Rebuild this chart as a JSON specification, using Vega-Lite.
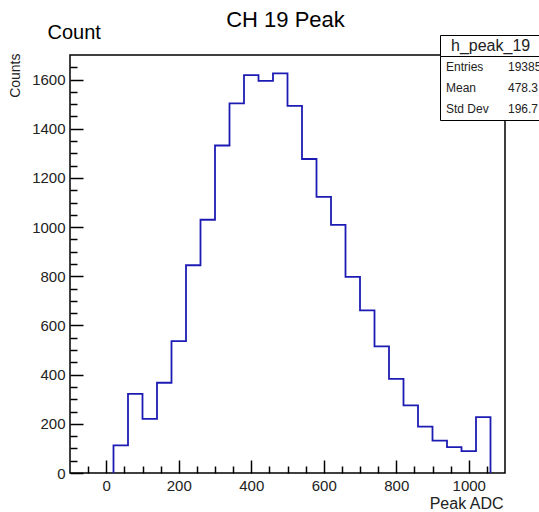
{
  "$schema": "https://vega.github.io/schema/vega-lite/v6.json",
  "autosize": {"type": "none"},
  "width": 435,
  "height": 418,
  "padding": {"left": 70, "top": 55, "right": 34, "bottom": 39},
  "background": "white",
  "title": {
    "text": "CH 19 Peak",
    "font": "Liberation Sans",
    "fontSize": 22,
    "fontWeight": "normal",
    "color": "black",
    "anchor": "middle",
    "frame": "group",
    "offset": 0,
    "dx": -2,
    "dy": 10
  },
  "layer": [
    {
      "data": {
        "values": [
          {"adc": 20, "count": 0},
          {"adc": 20, "count": 112},
          {"adc": 60, "count": 322},
          {"adc": 100, "count": 220},
          {"adc": 140, "count": 367},
          {"adc": 180, "count": 536},
          {"adc": 220, "count": 845},
          {"adc": 260, "count": 1030},
          {"adc": 300, "count": 1332},
          {"adc": 340, "count": 1503},
          {"adc": 380, "count": 1618},
          {"adc": 420, "count": 1595},
          {"adc": 460, "count": 1625},
          {"adc": 500, "count": 1493},
          {"adc": 540, "count": 1277},
          {"adc": 580, "count": 1123},
          {"adc": 620, "count": 1009},
          {"adc": 660, "count": 798},
          {"adc": 700, "count": 661},
          {"adc": 740, "count": 515},
          {"adc": 780, "count": 383},
          {"adc": 820, "count": 275},
          {"adc": 860, "count": 189},
          {"adc": 900, "count": 132},
          {"adc": 940, "count": 105},
          {"adc": 980, "count": 89},
          {"adc": 1020, "count": 227},
          {"adc": 1060, "count": 0}
        ]
      },
      "mark": {"type": "line", "interpolate": "step-after", "color": "#1c1cb4", "strokeWidth": 1.8, "clip": true},
      "encoding": {
        "x": {
          "field": "adc",
          "type": "quantitative",
          "scale": {"domain": [-100, 1100], "nice": false, "zero": false},
          "axis": {
            "orient": "bottom",
            "title": "Peak ADC",
            "values": [-50, 0, 50, 100, 150, 200, 250, 300, 350, 400, 450, 500, 550, 600, 650, 700, 750, 800, 850, 900, 950, 1000, 1050],
            "format": "d",
            "labelExpr": "datum.value % 200 === 0 ? datum.label : ''",
            "labelOverlap": false,
            "labelFlush": false,
            "labelFont": "Liberation Sans",
            "labelFontSize": 15,
            "labelColor": "#222",
            "labelPadding": 18,
            "labelBaseline": "top",
            "tickSize": {"condition": {"test": "datum.value % 200 === 0", "value": -13}, "value": -7},
            "tickColor": "black",
            "tickWidth": 1.5,
            "domain": false,
            "grid": false,
            "titleFont": "Liberation Sans",
            "titleFontSize": 16,
            "titleFontWeight": "normal",
            "titleColor": "#222",
            "titleAnchor": "end",
            "titleAlign": "right",
            "titleBaseline": "alphabetic",
            "titleX": 433,
            "titleY": 35
          }
        },
        "y": {
          "field": "count",
          "type": "quantitative",
          "scale": {"domain": [0, 1700], "nice": false},
          "axis": {
            "orient": "left",
            "title": "Counts",
            "values": [0, 50, 100, 150, 200, 250, 300, 350, 400, 450, 500, 550, 600, 650, 700, 750, 800, 850, 900, 950, 1000, 1050, 1100, 1150, 1200, 1250, 1300, 1350, 1400, 1450, 1500, 1550, 1600, 1650],
            "format": "d",
            "labelExpr": "datum.value % 200 === 0 ? datum.label : ''",
            "labelOverlap": false,
            "labelFlush": false,
            "labelFont": "Liberation Sans",
            "labelFontSize": 15,
            "labelColor": "#222",
            "labelPadding": 18,
            "tickSize": {"condition": {"test": "datum.value % 200 === 0", "value": -13}, "value": -7},
            "tickColor": "black",
            "tickWidth": 1.5,
            "domain": false,
            "grid": false,
            "titleFont": "Liberation Sans",
            "titleFontSize": 14,
            "titleFontWeight": "normal",
            "titleColor": "#222",
            "titleAngle": -90,
            "titleAlign": "right",
            "titleBaseline": "alphabetic",
            "titleX": -51,
            "titleY": -2
          }
        },
        "order": {"value": null}
      }
    },
    {
      "data": {
        "values": [
          {"adc": 20, "count": 112},
          {"adc": 1020, "count": 227}
        ]
      },
      "mark": {"type": "point", "opacity": 0},
      "encoding": {
        "x": {
          "field": "adc",
          "type": "quantitative",
          "axis": {
            "orient": "top",
            "title": "Count",
            "labels": false,
            "ticks": false,
            "domain": false,
            "grid": false,
            "titleFont": "Liberation Sans",
            "titleFontSize": 20,
            "titleFontWeight": "normal",
            "titleColor": "black",
            "titleAngle": 0,
            "titleAlign": "left",
            "titleBaseline": "alphabetic",
            "titleX": -23,
            "titleY": -17
          }
        }
      }
    },
    {
      "data": {
        "values": [
          {"cell": "Entries", "box": "h_peak_19"},
          {"cell": "Mean", "box": "h_peak_19"},
          {"cell": "Std Dev", "box": "h_peak_19"},
          {"cell": "19385", "box": "h_peak_19"},
          {"cell": "478.3", "box": "h_peak_19"},
          {"cell": "196.7", "box": "h_peak_19"}
        ]
      },
      "mark": {"type": "point", "opacity": 0},
      "encoding": {
        "color": {
          "field": "cell",
          "type": "nominal",
          "sort": null,
          "scale": {"range": ["black"]},
          "legend": {
            "orient": "none",
            "legendX": 370,
            "legendY": 1,
            "title": null,
            "columns": 2,
            "columnPadding": 18,
            "rowPadding": 9,
            "padding": 5,
            "strokeColor": "black",
            "fillColor": "white",
            "cornerRadius": 0,
            "symbolSize": 1,
            "symbolOpacity": 0,
            "symbolStrokeWidth": 0,
            "labelOffset": -11,
            "labelFont": "Liberation Sans",
            "labelFontSize": 12,
            "labelColor": "#222"
          }
        },
        "shape": {
          "field": "box",
          "type": "nominal",
          "legend": {
            "orient": "none",
            "legendX": 370,
            "legendY": -20,
            "title": "xx",
            "titleOrient": "right",
            "titleOpacity": 0,
            "titlePadding": 0,
            "titleFontSize": 12,
            "titleFont": "Liberation Sans",
            "padding": 2.5,
            "strokeColor": "black",
            "fillColor": "white",
            "cornerRadius": 0,
            "symbolSize": 1,
            "symbolOpacity": 0,
            "symbolStrokeWidth": 0,
            "labelOffset": -7.5,
            "labelFont": "Liberation Sans",
            "labelFontSize": 16,
            "labelColor": "#222"
          }
        }
      }
    }
  ],
  "resolve": {"axis": {"x": "independent"}},
  "config": {
    "font": "Liberation Sans",
    "view": {"stroke": "black", "strokeWidth": 1.5}
  }
}
